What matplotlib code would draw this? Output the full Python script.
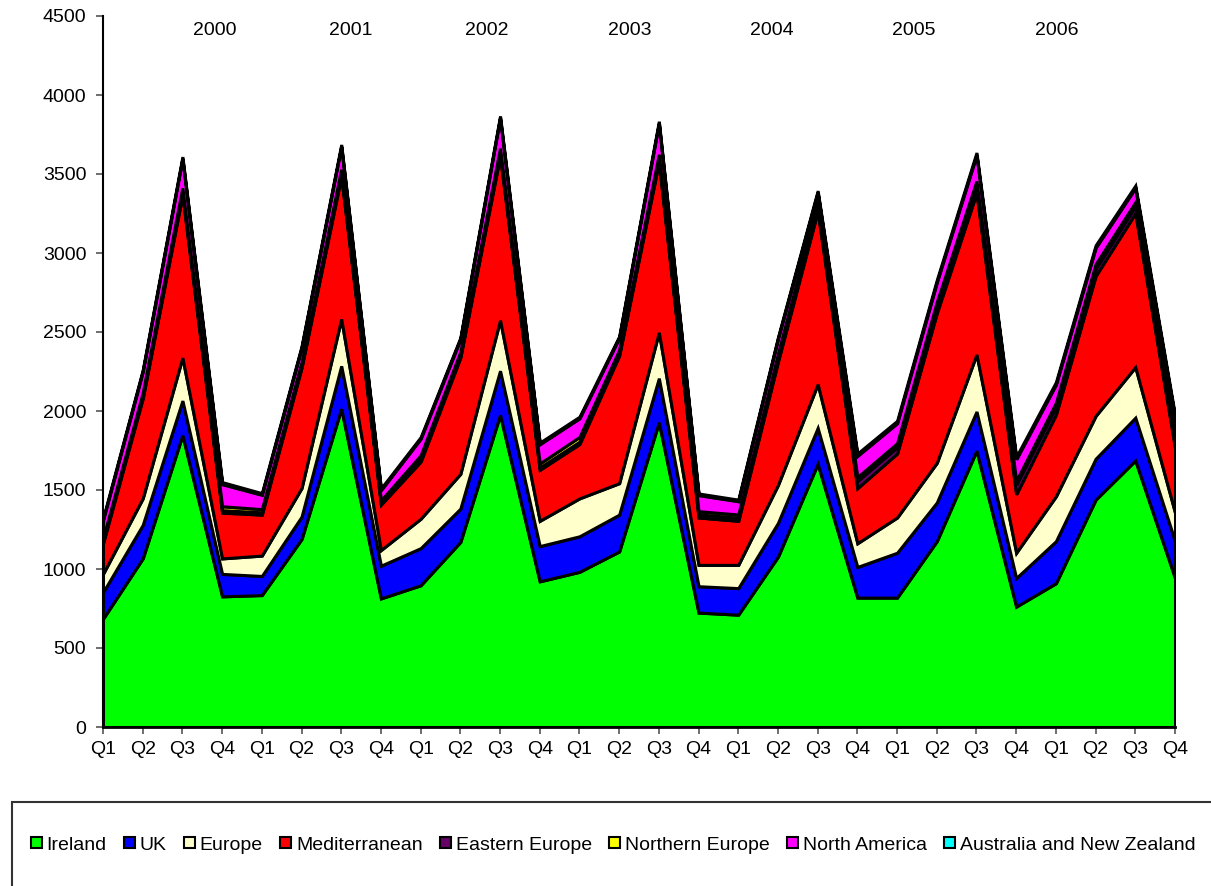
import matplotlib
matplotlib.use("Agg")
import matplotlib.pyplot as plt
from matplotlib.patches import Rectangle
import numpy as np

plt.rcParams["font.family"] = ["Liberation Sans", "DejaVu Sans"]

# Quarterly visitor numbers, 2000 Q1 - 2006 Q4 (thousands)
quarters = ["Q1", "Q2", "Q3", "Q4"] * 7
years = ["2000", "2001", "2002", "2003", "2004", "2005", "2006"]

ireland = [685, 1067, 1847, 827, 835, 1189, 2015, 814,
           897, 1171, 1976, 922, 982, 1111, 1929, 724,
           711, 1078, 1666, 819, 819, 1176, 1749, 762,
           910, 1439, 1687, 943]
uk = [168, 212, 219, 142, 121, 142, 271, 207,
      235, 211, 279, 223, 225, 233, 279, 167,
      168, 214, 227, 194, 284, 245, 248, 181,
      266, 259, 271, 233]
europe = [116, 168, 272, 98, 129, 181, 297, 99,
          186, 220, 320, 160, 240, 199, 290, 135,
          147, 240, 277, 150, 223, 251, 361, 160,
          284, 271, 320, 181]
mediterranean = [194, 633, 1030, 290, 259, 762, 902, 288,
                 362, 737, 1039, 323, 344, 808, 1077, 300,
                 279, 781, 1095, 349, 405, 948, 1023, 370,
                 517, 886, 974, 413]
eastern_europe = [15, 15, 20, 15, 15, 15, 20, 12,
                  15, 15, 20, 15, 15, 15, 20, 20,
                  20, 30, 35, 45, 40, 45, 50, 60,
                  50, 45, 45, 45]
northern_europe = [15, 20, 25, 25, 20, 20, 25, 15,
                   25, 20, 30, 25, 30, 20, 30, 20,
                   20, 20, 25, 25, 25, 25, 25, 25,
                   25, 30, 25, 25]
north_america = [117, 135, 185, 140, 91, 91, 145, 65,
                 105, 81, 192, 122, 118, 77, 197, 102,
                 84, 95, 58, 134, 127, 125, 165, 137,
                 116, 104, 90, 118]
australia_nz = [10, 10, 12, 13, 10, 10, 12, 10,
                10, 10, 12, 10, 10, 10, 12, 10,
                10, 10, 12, 15, 15, 15, 15, 15,
                15, 15, 15, 15]

series_names = ["Ireland", "UK", "Europe", "Mediterranean", "Eastern Europe",
                "Northern Europe", "North America", "Australia and New Zealand"]
series_values = [ireland, uk, europe, mediterranean, eastern_europe,
                 northern_europe, north_america, australia_nz]
series_colors = ["#00FF00", "#0000FF", "#FFFFCC", "#FF0000", "#660066",
                 "#FFFF00", "#FF00FF", "#00FFFF"]

W, H = 1211, 886
fig = plt.figure(figsize=(W / 100, H / 100), dpi=100)
ax = fig.add_axes([103 / W, 1 - 727 / H, (1175 - 103) / W, (727 - 16) / H])

x = np.arange(len(quarters))
polys = ax.stackplot(x, *series_values, colors=series_colors,
                     edgecolor="black", linewidth=2.2)
for p in polys:
    p.set_joinstyle("miter")

ax.set_xlim(0, len(quarters) - 1)
ax.set_ylim(0, 4500)
ax.set_yticks(np.arange(0, 4501, 500))
ax.set_xticks(x)
ax.set_xticklabels(quarters)

for side in ("top", "right"):
    ax.spines[side].set_visible(False)
ax.spines["left"].set_linewidth(1.5)
ax.spines["bottom"].set_linewidth(2.0)
ax.tick_params(axis="both", direction="out", length=5, width=1.2,
               color="#555555", labelsize=14)
ax.tick_params(axis="y", pad=7)
ax.tick_params(axis="x", pad=5)

# Year captions across the top of the plot
year_pos = [2.82, 6.25, 9.67, 13.27, 16.85, 20.43, 24.03]
for xp, yr in zip(year_pos, years):
    ax.text(xp, 4410, yr, ha="center", va="center", fontsize=14)

# Legend panel along the bottom
fig.patches.append(Rectangle((12 / W, -0.05), 1.2, 1 - 802 / H + 0.05,
                             transform=fig.transFigure, fill=False,
                             edgecolor="#333333", linewidth=1.5))
handles = [Rectangle((0, 0), 1, 1, facecolor=c, edgecolor="black", linewidth=1.5)
           for c in series_colors]
fig.legend(handles, series_names, loc="center left",
           bbox_to_anchor=(31 / W, 1 - 845 / H), ncol=8, frameon=False,
           fontsize=14, handlelength=0.55, handleheight=0.55,
           handletextpad=0.25, columnspacing=0.9, borderpad=0,
           borderaxespad=0)

fig.savefig("out.png", dpi=100)
